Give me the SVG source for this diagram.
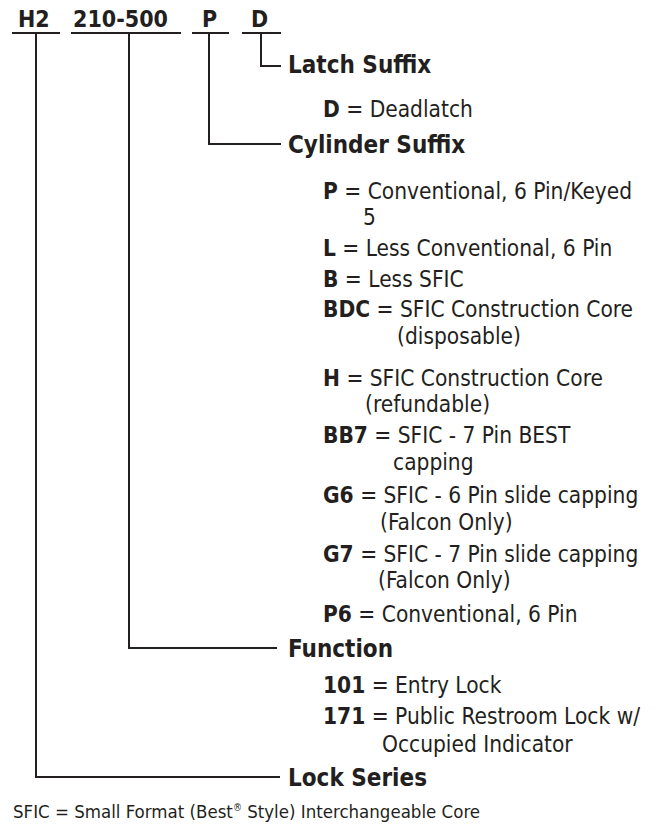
<svg xmlns="http://www.w3.org/2000/svg" width="657" height="824" viewBox="0 0 657 824">
<style>
text{font-family:"Liberation Sans Narrow","DejaVu Sans Condensed","Roboto Condensed","Liberation Sans",sans-serif;fill:#231f20}
.hd{font-size:23px;font-weight:bold}
.h{font-size:24px;font-weight:bold}
.t{font-size:22.5px}
.b{font-weight:bold}
.fn{font-size:18.5px}
.ln{fill:none;stroke:#231f20;stroke-width:2}
</style>
<rect width="657" height="824" fill="#fff"/>
<g id="code">
<text class="hd" x="18" y="27">H2</text>
<text class="hd" x="73" y="27">210-500</text>
<text class="hd" x="202" y="27">P</text>
<text class="hd" x="251" y="27">D</text>
<path class="ln" d="M12 33H60M71 33H181M192 33H229M242 33H281"/>
</g>
<g id="connectors">
<path class="ln" d="M261 33V66H281"/>
<path class="ln" d="M209 33V144H281"/>
<path class="ln" d="M129 33V648H277"/>
<path class="ln" d="M36 33V777H280"/>
</g>
<g id="latch">
<text class="h" x="288" y="73">Latch Suffix</text>
<text class="t" x="323" y="117"><tspan class="b">D</tspan> = Deadlatch</text>
</g>
<g id="cylinder">
<text class="h" x="288" y="153">Cylinder Suffix</text>
<text class="t" x="323" y="199"><tspan class="b">P</tspan> = Conventional, 6 Pin/Keyed</text>
<text class="t" x="363" y="225">5</text>
<text class="t" x="323" y="256"><tspan class="b">L</tspan> = Less Conventional, 6 Pin</text>
<text class="t" x="323" y="287"><tspan class="b">B</tspan> = Less SFIC</text>
<text class="t" x="323" y="317"><tspan class="b">BDC</tspan> = SFIC Construction Core</text>
<text class="t" x="397" y="344">(disposable)</text>
<text class="t" x="323" y="386"><tspan class="b">H</tspan> = SFIC Construction Core</text>
<text class="t" x="365" y="412">(refundable)</text>
<text class="t" x="323" y="443"><tspan class="b">BB7</tspan> = SFIC - 7 Pin BEST</text>
<text class="t" x="393" y="470">capping</text>
<text class="t" x="323" y="503"><tspan class="b">G6</tspan> = SFIC - 6 Pin slide capping</text>
<text class="t" x="380" y="530">(Falcon Only)</text>
<text class="t" x="323" y="562"><tspan class="b">G7</tspan> = SFIC - 7 Pin slide capping</text>
<text class="t" x="378" y="588">(Falcon Only)</text>
<text class="t" x="323" y="622"><tspan class="b">P6</tspan> = Conventional, 6 Pin</text>
</g>
<g id="function">
<text class="h" x="288" y="657">Function</text>
<text class="t" x="323" y="693"><tspan class="b">101</tspan> = Entry Lock</text>
<text class="t" x="323" y="724"><tspan class="b">171</tspan> = Public Restroom Lock w/</text>
<text class="t" x="382" y="752">Occupied Indicator</text>
</g>
<g id="series">
<text class="h" x="288" y="786">Lock Series</text>
</g>
<g id="footnote">
<text class="fn" x="13" y="818">SFIC = Small Format (Best<tspan font-size="10" dy="-7">®</tspan><tspan dy="7"> Style) Interchangeable Core</tspan></text>
</g>
</svg>
